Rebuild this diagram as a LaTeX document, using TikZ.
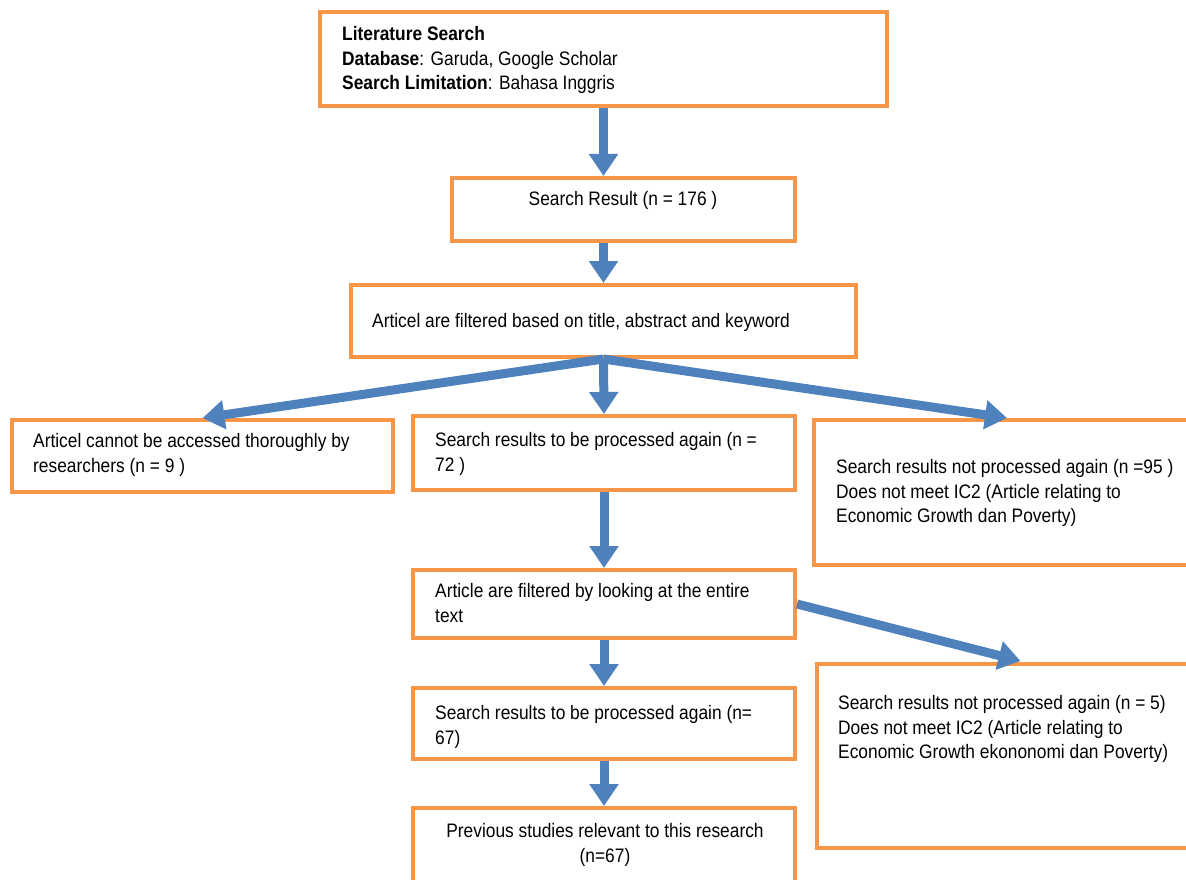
\documentclass[tikz,border=0pt]{standalone}
\usepackage{fontspec}
\setmainfont{Liberation Sans}[FakeStretch=0.89]
\usetikzlibrary{arrows.meta}
\definecolor{boxorange}{HTML}{F79646}
\definecolor{arrowblue}{HTML}{4F81BD}
\tikzset{
  flowbox/.style={draw=boxorange, line width=4pt, fill=white, inner sep=0pt},
  flowtext/.style={inner sep=0pt, align=left, anchor=west, font=\fontsize{19.5}{24.5}\selectfont},
  flowarrow/.style={draw=arrowblue, line width=9pt, -{Triangle[width=28pt,length=22pt]}}
}
\begin{document}
\begin{tikzpicture}[x=1pt,y=-1pt]
\useasboundingbox (0,0) rectangle (1186,880);
\clip (0,0) rectangle (1186,880);
% boxes
\node[flowbox, minimum width=567pt, minimum height=94pt] (b1) at (603.5,59) {};
\node[flowbox, minimum width=343pt, minimum height=63pt] (b2) at (623.5,209.5) {};
\node[flowbox, minimum width=505pt, minimum height=72pt] (b3) at (603.5,321) {};
\node[flowbox, minimum width=381pt, minimum height=72pt] (b4) at (202.5,456) {};
\node[flowbox, minimum width=382pt, minimum height=74pt] (b5) at (604,453) {};
\node[flowbox, minimum width=386pt, minimum height=145pt] (b6) at (1007,492.5) {};
\node[flowbox, minimum width=382pt, minimum height=68pt] (b7) at (604,604) {};
\node[flowbox, minimum width=383pt, minimum height=184pt] (b8) at (1008.5,756) {};
\node[flowbox, minimum width=382pt, minimum height=71pt] (b9) at (604,723.5) {};
\node[flowbox, minimum width=382pt, minimum height=92pt] (b10) at (604,854) {};
% texts
\node[flowtext] (t1) at (342,60) {\textbf{Literature Search}\\\textbf{Database}: Garuda, Google Scholar\\\textbf{Search Limitation}: Bahasa Inggris};
\node[flowtext, anchor=center] (t2) at (623,200) {Search Result (n = 176 )};
\node[flowtext] (t3) at (372,322) {Articel are filtered based on title, abstract and keyword};
\node[flowtext] (t4) at (33,455) {Articel cannot be accessed thoroughly by\\researchers (n = 9 )};
\node[flowtext] (t5) at (435,454) {Search results to be processed again (n =\\72 )};
\node[flowtext] (t6) at (836,493) {Search results not processed again (n =95 )\\Does not meet IC2 (Article relating to\\Economic Growth dan Poverty)};
\node[flowtext] (t7) at (435,603) {Article are filtered by looking at the entire\\text};
\node[flowtext] (t8) at (838,729) {Search results not processed again (n = 5)\\Does not meet IC2 (Article relating to\\Economic Growth ekononomi dan Poverty)};
\node[flowtext] (t9) at (435,727) {Search results to be processed again (n=\\67)};
\node[flowtext, anchor=center, align=center] (t10) at (605,845) {Previous studies relevant to this research\\(n=67)};
% arrows
\draw[flowarrow] (b1.south) -- (b1.south |- b2.north);
\draw[flowarrow] (b1.south |- b2.south) -- (b3.north);
\draw[flowarrow] (b3.south) -- (b4.north);
\draw[flowarrow] (b3.south) -- (b5.north);
\draw[flowarrow] (b3.south) -- (b6.north);
\draw[flowarrow] (b5.south) -- (b7.north);
\draw[flowarrow] (b7.east) -- ([xshift=12pt,yshift=1pt]b8.north);
\draw[flowarrow] (b7.south) -- (b9.north);
\draw[flowarrow] (b9.south) -- (b10.north);
\end{tikzpicture}
\end{document}
